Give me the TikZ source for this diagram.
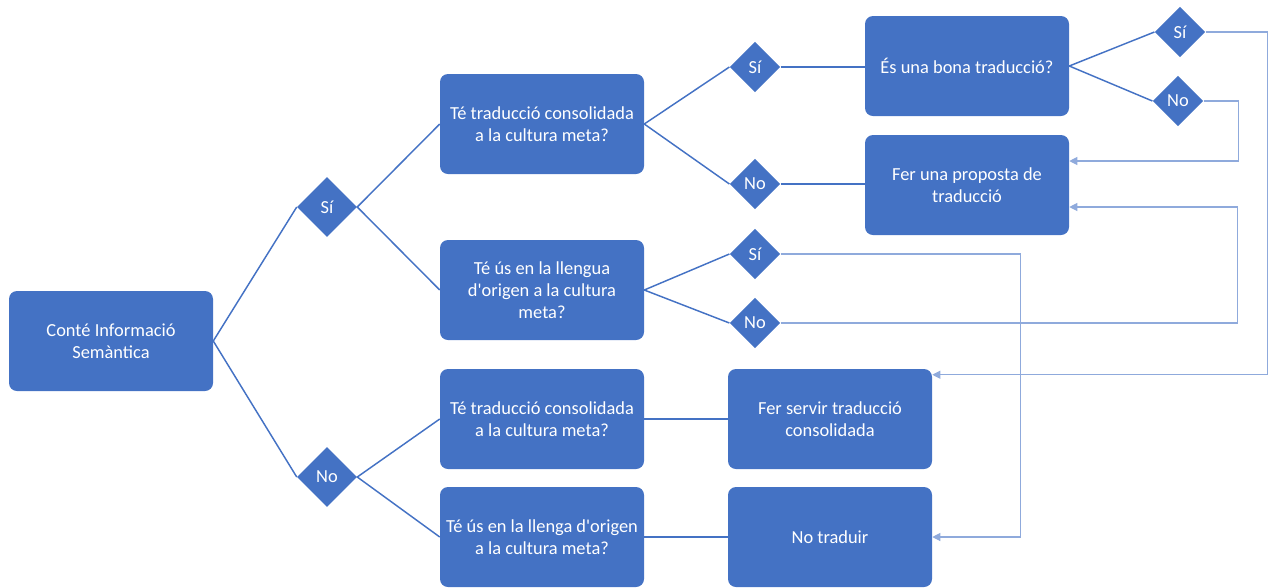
\documentclass[tikz,border=0pt]{standalone}
\usepackage{fontspec}
\setmainfont{Carlito}
\usetikzlibrary{shapes.geometric,arrows.meta,positioning}
\definecolor{boxblue}{HTML}{4472C4}
\definecolor{lineblue}{HTML}{8FAADC}

\begin{document}
\begin{tikzpicture}[
    x=0.75pt, y=-0.75pt,
    every node/.style={font=\fontsize{13.8pt}{16.5pt}\selectfont, align=center, text=white},
    block/.style={rectangle, fill=boxblue, rounded corners=6pt, minimum width=153pt, minimum height=75pt, inner sep=2pt},
    choice/.style={diamond, fill=boxblue, inner sep=0pt, minimum size=45pt},
    small/.style={choice, minimum size=38pt},
    link/.style={draw=boxblue, line width=1.1pt},
    back/.style={-{Triangle[length=6pt,width=6pt]}, draw=lineblue, line width=0.8pt}
]
    \useasboundingbox (0,0) rectangle (1278,587);

    \node (info) [block] at (111,341) {Conté Informació\\Semàntica};
    \node (siInfo) [choice] at (327,207) {Sí};
    \node (noInfo) [choice] at (327,477) {No};

    \node (trad1) [block] at (542,124) {Té traducció consolidada\\a la cultura meta?};
    \node (us1) [block] at (542,290) {Té ús en la llengua\\d\textquotesingle origen a la cultura\\meta?};
    \node (trad2) [block] at (542,419) {Té traducció consolidada\\a la cultura meta?};
    \node (us2) [block] at (542,537) {Té ús en la llenga d\textquotesingle origen\\a la cultura meta?};

    \node (si1) [small] at (755,67) {Sí};
    \node (no1) [small] at (755,184) {No};
    \node (si2) [small] at (755,254) {Sí};
    \node (no2) [small] at (755,323) {No};

    \node (bona) [block] at (967,66) {És una bona traducció?};
    \node (proposta) [block] at (967,185) {Fer una proposta de\\traducció};
    \node (servir) [block] at (830,419) {Fer servir traducció\\consolidada};
    \node (notrad) [block] at (830,537) {No traduir};

    \node (siBona) [small] at (1180,32) {Sí};
    \node (noBona) [small] at (1178,101) {No};

    % branques principals
    \draw [link] (siInfo.west) -- (info.east) -- (noInfo.west);
    \draw [link] (trad1.west) -- (siInfo.east) -- (us1.west);
    \draw [link] (trad2.west) -- (noInfo.east) -- (us2.west);
    \draw [link] (si1.west) -- (trad1.east) -- (no1.west);
    \draw [link] (si2.west) -- (us1.east) -- (no2.west);
    \draw [link] (siBona.west) -- (bona.east) -- (noBona.west);
    \draw [link] (si1) -- (bona.west |- si1);
    \draw [link] (no1) -- (proposta.west |- no1);
    \draw [link] (trad2) -- (servir);
    \draw [link] (us2) -- (notrad);

    % retorns
    \draw [back] (siBona.east) -- ++(62,0) |- ([yshift=-4.5pt]servir.north east);
    \draw [back] (noBona.east) -- ++(35,0) |- ([yshift=18pt]proposta.east);
    \draw [back] (no2.east) -- ++(457,0) |- ([yshift=-16.5pt]proposta.east);
    \draw [back] (si2.east) -- ++(240,0) |- (notrad.east);
\end{tikzpicture}
\end{document}
